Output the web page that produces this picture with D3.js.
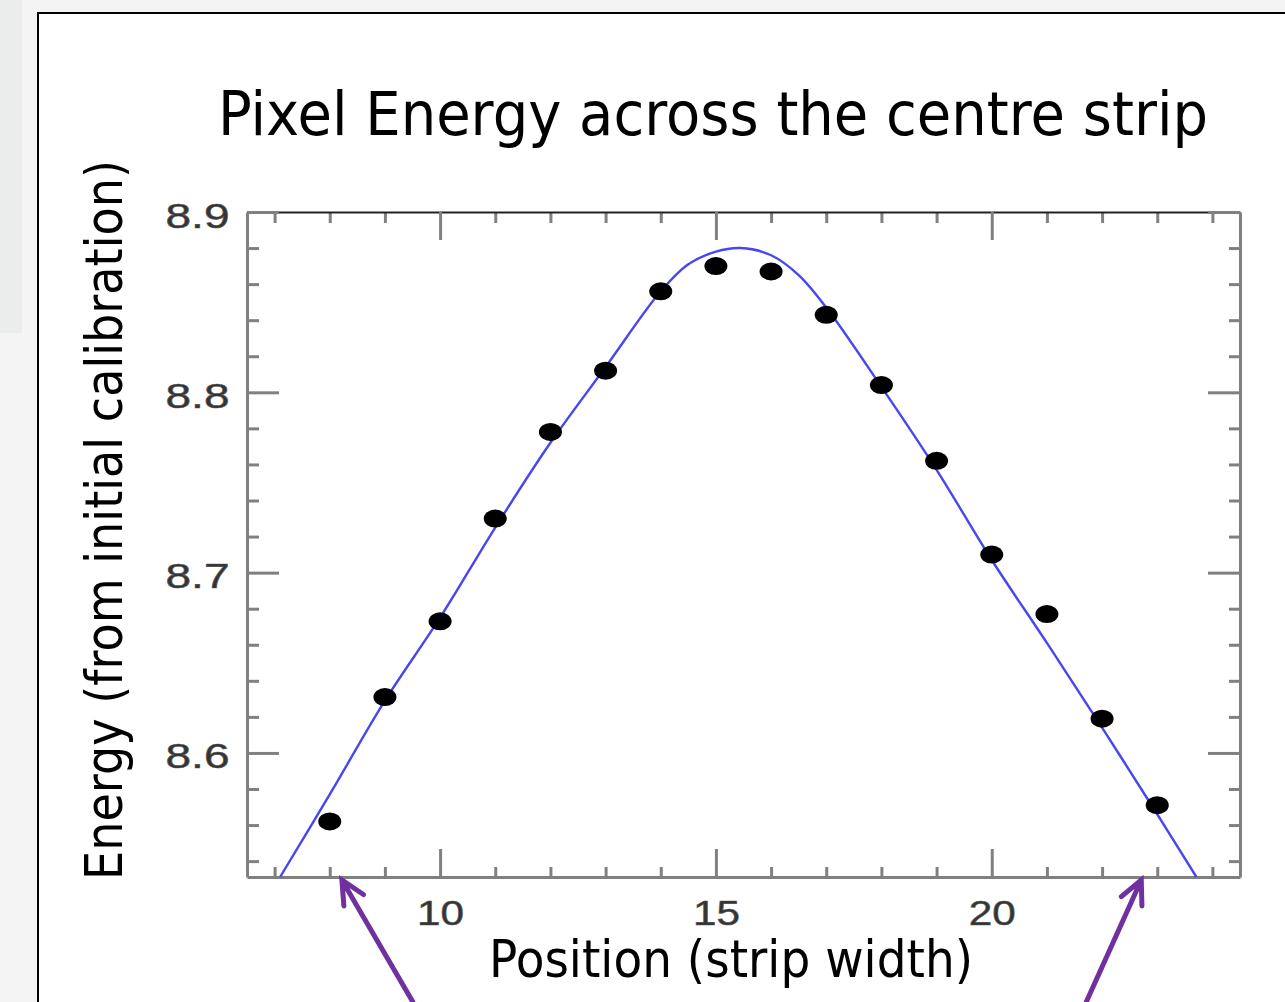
<!DOCTYPE html>
<html>
<head>
<meta charset="utf-8">
<script src="https://cdn.jsdelivr.net/npm/d3@7"></script>
<style>
  body { margin: 0; background: #f3f4f3; }
  svg { display: block; }
</style>
</head>
<body>
<svg id="chart" width="1285" height="1002"></svg>
<script>
// measured points (strip position vs energy)
const positions = [8, 9, 10, 11, 12, 13, 14, 15, 16, 17, 18, 19, 20, 21, 22, 23];
const energies = [8.562, 8.631, 8.673, 8.730, 8.778, 8.812, 8.856, 8.870,
                  8.867, 8.843, 8.804, 8.762, 8.710, 8.677, 8.619, 8.571];

// fitted curve
const fitX = [7.1, 8, 9, 10, 11, 12, 13, 14, 14.5, 15, 15.45, 16, 16.5, 17, 18, 19, 20, 21, 22, 23, 23.71];
const fitY = [8.5312, 8.577, 8.629, 8.675, 8.725, 8.772, 8.814, 8.856, 8.871, 8.878, 8.880,
              8.876, 8.865, 8.847, 8.803, 8.757, 8.707, 8.661, 8.614, 8.566, 8.5312];

// ticks
const xMajor = [10, 15, 20];
const xMinor = [7, 8, 9, 11, 12, 13, 14, 16, 17, 18, 19, 21, 22, 23, 24];
const yMajor = [8.6, 8.7, 8.8, 8.9];
const yMinor = [8.54, 8.56, 8.58, 8.62, 8.64, 8.66, 8.68, 8.72, 8.74, 8.76, 8.78,
                8.82, 8.84, 8.86, 8.88];

// annotation arrows point at these positions on the x axis
const arrowAt = [8.22, 22.71];

const svg = d3.select("#chart");
const width = 1285, height = 1002;
const margin = { top: 212, right: 45, bottom: 125, left: 247 };

// slide background
svg.append("rect").attr("width", width).attr("height", height).attr("fill", "#f3f4f3");
svg.append("rect").attr("x", 0).attr("y", 0).attr("width", 22).attr("height", 333).attr("fill", "#eaedeb");
svg.append("rect")
    .attr("x", 38).attr("y", 13)
    .attr("width", width).attr("height", height)
    .attr("fill", "white").attr("stroke", "black").attr("stroke-width", 2);

const x = d3.scaleLinear()
    .domain([6.5, 24.5])
    .range([margin.left, width - margin.right]);

const y = d3.scaleLinear()
    .domain([8.5312, 8.9])
    .range([height - margin.bottom, margin.top]);

const axisGrey = "#808080";

// minor ticks on all four sides
function minorAxis(axis, tr) {
    const g = svg.append("g").attr("transform", tr).call(axis);
    g.select(".domain").remove();
    g.selectAll(".tick line").attr("stroke", axisGrey).attr("stroke-width", 3);
    g.selectAll("text").remove();
    return g;
}
minorAxis(d3.axisBottom(x).tickValues(xMinor).tickSize(-10), `translate(0,${y.range()[0]})`);
minorAxis(d3.axisTop(x).tickValues(xMinor).tickSize(-11), `translate(0,${y.range()[1]})`);
minorAxis(d3.axisLeft(y).tickValues(yMinor).tickSize(-12), `translate(${x.range()[0]},0)`);
minorAxis(d3.axisRight(y).tickValues(yMinor).tickSize(-11), `translate(${x.range()[1]},0)`);

// major ticks
const topAx = svg.append("g")
    .attr("transform", `translate(0,${y.range()[1]})`)
    .call(d3.axisTop(x).tickValues(xMajor).tickSize(-28).tickSizeOuter(0).tickFormat(""));
const rightAx = svg.append("g")
    .attr("transform", `translate(${x.range()[1]},0)`)
    .call(d3.axisRight(y).tickValues(yMajor).tickSize(-32).tickSizeOuter(0).tickFormat(""));

const bottomAx = svg.append("g")
    .attr("transform", `translate(0,${y.range()[0]})`)
    .call(d3.axisBottom(x).tickValues(xMajor).tickSize(-28).tickSizeOuter(0).tickPadding(48));
const leftAx = svg.append("g")
    .attr("transform", `translate(${x.range()[0]},0)`)
    .call(d3.axisLeft(y).tickValues(yMajor).tickSize(-32).tickSizeOuter(0).tickPadding(17.5)
        .tickFormat(d3.format(".1f")));

[topAx, rightAx, bottomAx, leftAx].forEach(g => {
    g.selectAll(".tick line").attr("stroke", axisGrey).attr("stroke-width", 3);
    g.select(".domain").attr("stroke", axisGrey).attr("stroke-width", 3);
});
topAx.select(".domain").attr("stroke", "#222").attr("stroke-width", 2);

bottomAx.selectAll("text")
    .attr("font-family", "'Liberation Sans', Arial, sans-serif")
    .attr("font-size", 35)
    .attr("fill", "#333")
    .attr("stroke", "#555").attr("stroke-width", 0.6)
    .attr("y", 48).attr("dy", 0)
    .attr("textLength", 47).attr("lengthAdjust", "spacingAndGlyphs");

leftAx.selectAll("text")
    .attr("font-family", "'Liberation Sans', Arial, sans-serif")
    .attr("font-size", 35)
    .attr("fill", "#333")
    .attr("stroke", "#555").attr("stroke-width", 0.6)
    .attr("dy", 15)
    .attr("textLength", 64).attr("lengthAdjust", "spacingAndGlyphs");

// fitted curve
const fit = fitX.map((d, i) => ({ x: d, y: fitY[i] }));
svg.append("path")
    .datum(fit)
    .attr("fill", "none")
    .attr("stroke", "#4646f2")
    .attr("stroke-width", 2.4)
    .attr("d", d3.line().x(d => x(d.x)).y(d => y(d.y)).curve(d3.curveCatmullRom.alpha(0.5)));

// data points
svg.append("g")
    .selectAll("ellipse")
    .data(positions.map((p, i) => ({ p, e: energies[i] })))
    .enter()
    .append("ellipse")
        .attr("cx", d => x(d.p))
        .attr("cy", d => y(d.e))
        .attr("rx", 11.5)
        .attr("ry", 9)
        .attr("fill", "black");

// titles
const txtFont = "Tahoma, 'DejaVu Sans', sans-serif";
svg.append("text")
    .attr("x", 218).attr("y", 135)
    .attr("font-family", txtFont)
    .attr("font-size", 60)
    .attr("textLength", 990).attr("lengthAdjust", "spacingAndGlyphs")
    .text("Pixel Energy across the centre strip");

svg.append("text")
    .attr("x", 489).attr("y", 977)
    .attr("font-family", txtFont)
    .attr("font-size", 51)
    .attr("textLength", 484).attr("lengthAdjust", "spacingAndGlyphs")
    .text("Position (strip width)");

svg.append("text")
    .attr("transform", "translate(122,880) rotate(-90)")
    .attr("font-family", txtFont)
    .attr("font-size", 52)
    .attr("textLength", 720).attr("lengthAdjust", "spacingAndGlyphs")
    .text("Energy (from initial calibration)");

// purple arrows pointing at the edge strips
const arrowTail = [{ dx: 71, dy: 122 }, { dx: -55, dy: 122 }];
const arrowG = svg.append("g")
    .attr("stroke", "#7030a0")
    .attr("stroke-width", 5)
    .attr("stroke-linecap", "round")
    .attr("fill", "none");
arrowAt.forEach((v, i) => {
    const tx = x(v), ty = y.range()[0] + 3;
    const t = arrowTail[i];
    const len = Math.hypot(t.dx, t.dy);
    const ux = t.dx / len, uy = t.dy / len;
    const head = 26, spread = 0.45;
    const rot = a => [ux * Math.cos(a) - uy * Math.sin(a), ux * Math.sin(a) + uy * Math.cos(a)];
    const [ax, ay] = rot(spread), [bx, by] = rot(-spread);
    arrowG.append("path").attr("d",
        `M${tx + t.dx},${ty + t.dy}L${tx},${ty}` +
        `M${tx + ax * head},${ty + ay * head}L${tx},${ty}L${tx + bx * head},${ty + by * head}`);
});
</script>
</body>
</html>
